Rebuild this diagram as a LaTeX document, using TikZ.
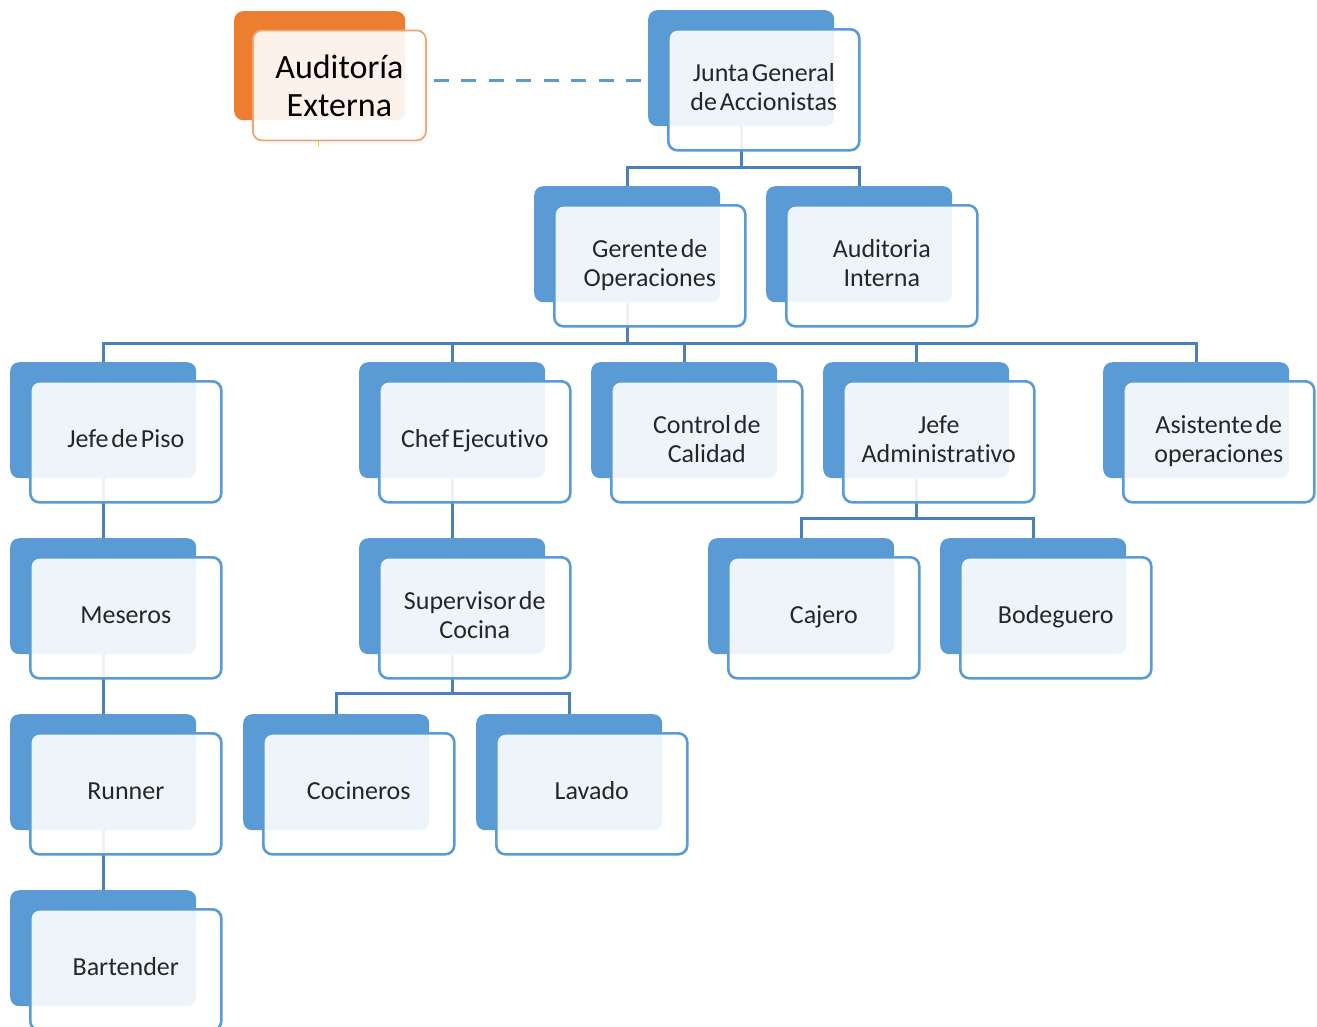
\documentclass[tikz,border=0pt]{standalone}
\usepackage{fontspec}
\setmainfont{Carlito}[RawFeature={-liga}]
\usetikzlibrary{calc}
\definecolor{boxblue}{HTML}{5B9BD5}
\definecolor{lineblue}{HTML}{4A80BE}
\definecolor{txtgray}{HTML}{262626}
\definecolor{orgback}{HTML}{ED7D31}
\definecolor{orgline}{HTML}{F4A46E}
\definecolor{yel}{HTML}{FFC000}
\pgfdeclarelayer{bg}
\pgfsetlayers{bg,main}
\newcommand\boxfont{\fontsize{26}{29}\selectfont\spaceskip=0.11em plus 0.02em\relax}
\tikzset{
  backbox/.style={fill=boxblue, rounded corners=9pt, minimum width=186pt, minimum height=116pt, inner sep=0pt, anchor=north west},
  frontbox/.style={draw=boxblue, line width=2.6pt, fill=white, fill opacity=0.9, text opacity=1, rounded corners=9pt, minimum width=191pt, minimum height=121pt, inner sep=0pt, anchor=north west, align=center, text=txtgray, font=\boxfont},
  conn/.style={draw=lineblue, line width=3pt},
  dashconn/.style={draw=boxblue, line width=3pt, dash pattern=on 15pt off 12.5pt},
}
\newcommand\orgbox[4]{%
  \node[backbox] (#1b) at (#2,#3) {};
  \node[frontbox] (#1) at (#2+19,#3+18) {\raisebox{1.5pt}{\begin{tabular}{@{}c@{}}#4\end{tabular}}};
}
\begin{document}
\begin{tikzpicture}[x=1pt,y=-1pt]
\useasboundingbox (0,0) rectangle (1317,1026);
% Auditoria externa
\node[fill=orgback, rounded corners=9pt, minimum width=171pt, minimum height=109pt, inner sep=0pt, anchor=north west] (aeb) at (234,11) {};
\node[draw=orgline, line width=1.8pt, fill=white, fill opacity=0.9, text opacity=1, rounded corners=9pt, minimum width=173pt, minimum height=110pt, inner sep=0pt, anchor=north west, align=center, text=black, font=\fontsize{34}{38}\selectfont] (ae) at (252,29.5) {Auditoría\\Externa};
\draw[yel, line width=1pt] ([xshift=-21pt]ae.south) -- ++(0,5);
% boxes
\orgbox{junta}{648}{10}{Junta General\\de Accionistas}
\orgbox{ger}{534}{186}{Gerente de\\Operaciones}
\orgbox{aint}{766}{186}{Auditoria\\Interna}
\orgbox{piso}{10}{362}{Jefe de Piso}
\orgbox{chef}{359}{362}{Chef Ejecut\kern0pt ivo}
\orgbox{ctrl}{591}{362}{Control de\\Calidad}
\orgbox{jadm}{823}{362}{Jefe\\Administrat\kern0pt ivo}
\orgbox{asis}{1103}{362}{Asistente de\\operaciones}
\orgbox{mes}{10}{538}{Meseros}
\orgbox{sup}{359}{538}{Supervisor de\\Cocina}
\orgbox{caj}{708}{538}{Cajero}
\orgbox{bod}{940}{538}{Bodeguero}
\orgbox{run}{10}{714}{Runner}
\orgbox{coc}{243}{714}{Cocineros}
\orgbox{lav}{476}{714}{Lavado}
\orgbox{bar}{10}{890}{Bartender}
% bus levels
\coordinate (busA) at (0,167);
\coordinate (busB) at (0,343);
\coordinate (busC) at (0,518);
\coordinate (busD) at (0,693);
\coordinate (dy) at (0,80);
\begin{pgfonlayer}{bg}
\draw[conn] (juntab.south) -- (juntab.south |- busA) -| (gerb.north);
\draw[conn] (juntab.south |- busA) -| (aintb.north);
\draw[conn] (gerb.south) -- (gerb.south |- busB);
\draw[conn] (pisob.north) |- (gerb.south |- busB) -| (asisb.north);
\draw[conn] (chefb.north) -- (chefb.north |- busB);
\draw[conn] (ctrlb.north) -- (ctrlb.north |- busB);
\draw[conn] (jadmb.north) -- (jadmb.north |- busB);
\draw[conn] (pisob.south) -- (mesb.north);
\draw[conn] (mesb.south) -- (runb.north);
\draw[conn] (runb.south) -- (barb.north);
\draw[conn] (chefb.south) -- (supb.north);
\draw[conn] (supb.south) -- (supb.south |- busD);
\draw[conn] (cocb.north) |- (supb.south |- busD) -| (lavb.north);
\draw[conn] (jadmb.south) -- (jadmb.south |- busC);
\draw[conn] (cajb.north) |- (jadmb.south |- busC) -| (bodb.north);
\end{pgfonlayer}
\draw[dashconn] ([xshift=7pt]ae.east |- dy) -- ([xshift=-3pt]juntab.west |- dy);
\end{tikzpicture}
\end{document}
